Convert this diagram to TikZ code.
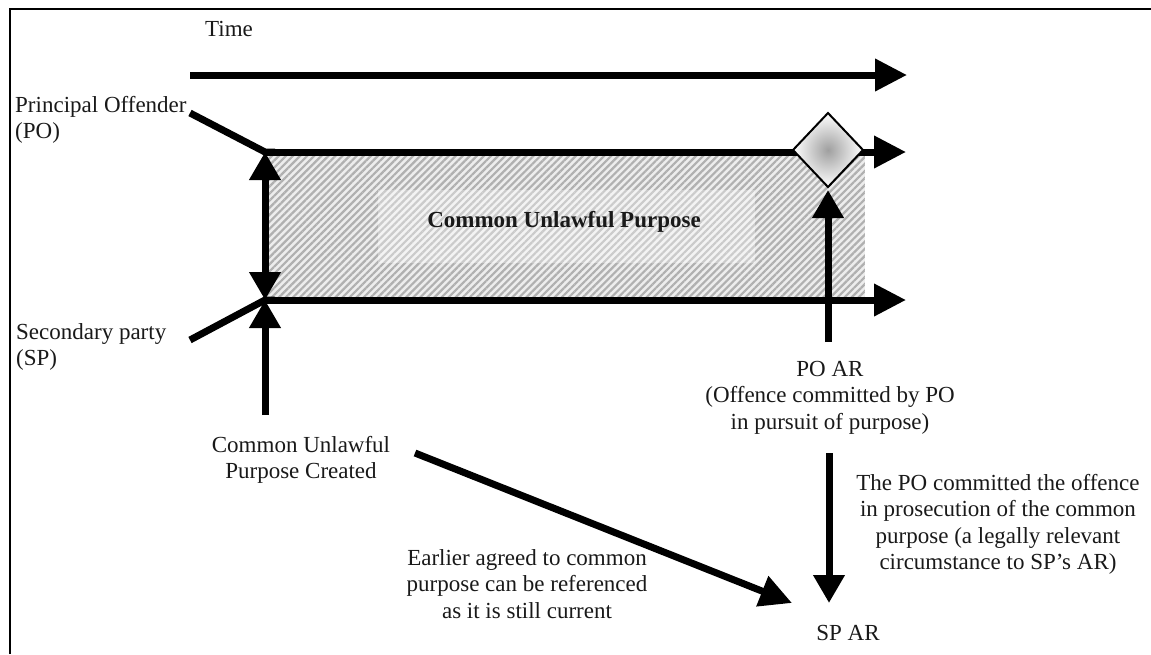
\documentclass[tikz,border=0pt]{standalone}
\usepackage{fontspec}
\setmainfont{Liberation Serif}
\usetikzlibrary{arrows.meta,patterns.meta}
\begin{document}
\begin{tikzpicture}[x=1pt,y=-1pt,
  lbl/.style={font=\fontsize{23}{26.5}\selectfont, inner sep=0pt, text=black!90},
  thick line/.style={line width=7pt},
  arr/.style={line width=7pt, -{Triangle[length=32pt,width=31pt]}},
  varr/.style={line width=7pt, -{Triangle[length=28pt,width=30pt]}},
  darr/.style={line width=7pt, {Triangle[length=28pt,width=30pt]}-{Triangle[length=28pt,width=30pt]}},
]
\useasboundingbox (0,0) rectangle (1151,654);
% frame
\draw[line width=2.5pt] (10,654) -- (10,9) -- (1151,9);

% coordinates
\coordinate (t0) at (190,75);  \coordinate (t1) at (907,75);
\coordinate (po0) at (190,113); \coordinate (poA) at (265,152); \coordinate (po1) at (906,152);
\coordinate (sp0) at (190,340); \coordinate (spA) at (265,300); \coordinate (sp1) at (906,300);
\coordinate (created) at (265,415);
\coordinate (poarTop) at (828,190); \coordinate (poarBot) at (828,342);
\coordinate (downA) at (829,453); \coordinate (downB) at (829,603);
\coordinate (diagA) at (415,453); \coordinate (diagB) at (792,603);

% hatched region
\fill[gray!14] (265,152) rectangle (866,300);
\fill[pattern={Lines[angle=45,distance=5pt,line width=2.2pt]}, pattern color=gray!62] (265,152) rectangle (866,300);
\draw[white, line width=1.2pt] (866,152) -- (866,300);
\fill[white, opacity=0.35] (378,190) rectangle (755,263);
\node[lbl, font=\fontsize{23}{26.5}\selectfont\bfseries, anchor=base] (cup) at (564,227) {Common Unlawful Purpose};

% lines
\draw[arr] (t0) -- (t1);
\draw[thick line, line join=miter] (po0) -- (poA) -- ++(10,0);
\draw[arr] (poA) -- (po1);
\draw[thick line, line join=miter] (sp0) -- (spA) -- ++(10,0);
\draw[arr] (spA) -- (sp1);
\draw[darr] (poA) -- (spA);
\draw[varr] (created) -- (spA);

% diamond
\shadedraw[inner color=gray!75, outer color=white, draw=black, line width=2pt]
  (828,113) -- (863,150) -- (828,187) -- (793,150) -- cycle;
\node[inner sep=0pt] (diamond) at (828,150) {};

\draw[varr] (poarBot) -- (poarTop);
\draw[varr] (downA) -- (downB);
\draw[arr] (diagA) -- (diagB);

% labels
\node[lbl, anchor=base] (time) at (229,36) {Time};
\node[lbl, anchor=north west, align=left] (po) at (15,96) {Principal Offender\\(PO)};
\node[lbl, anchor=north west, align=left] (sp) at (16,323) {Secondary party\\(SP)};
\node[lbl, anchor=north, align=center] (cupc) at (301,436) {Common Unlawful\\Purpose Created};
\node[lbl, anchor=north, align=center] (poar) at (830,361) {PO AR\\(Offence committed by PO\\in pursuit of purpose)};
\node[lbl, anchor=north, align=center] (rel) at (998,474) {The PO committed the offence\\in prosecution of the common\\purpose (a legally relevant\\circumstance to SP’s AR)};
\node[lbl, anchor=base] (spar) at (848,640) {SP AR};
\node[lbl, anchor=north, align=center] (earlier) at (527,549) {Earlier agreed to common\\purpose can be referenced\\as it is still current};
\end{tikzpicture}
\end{document}
